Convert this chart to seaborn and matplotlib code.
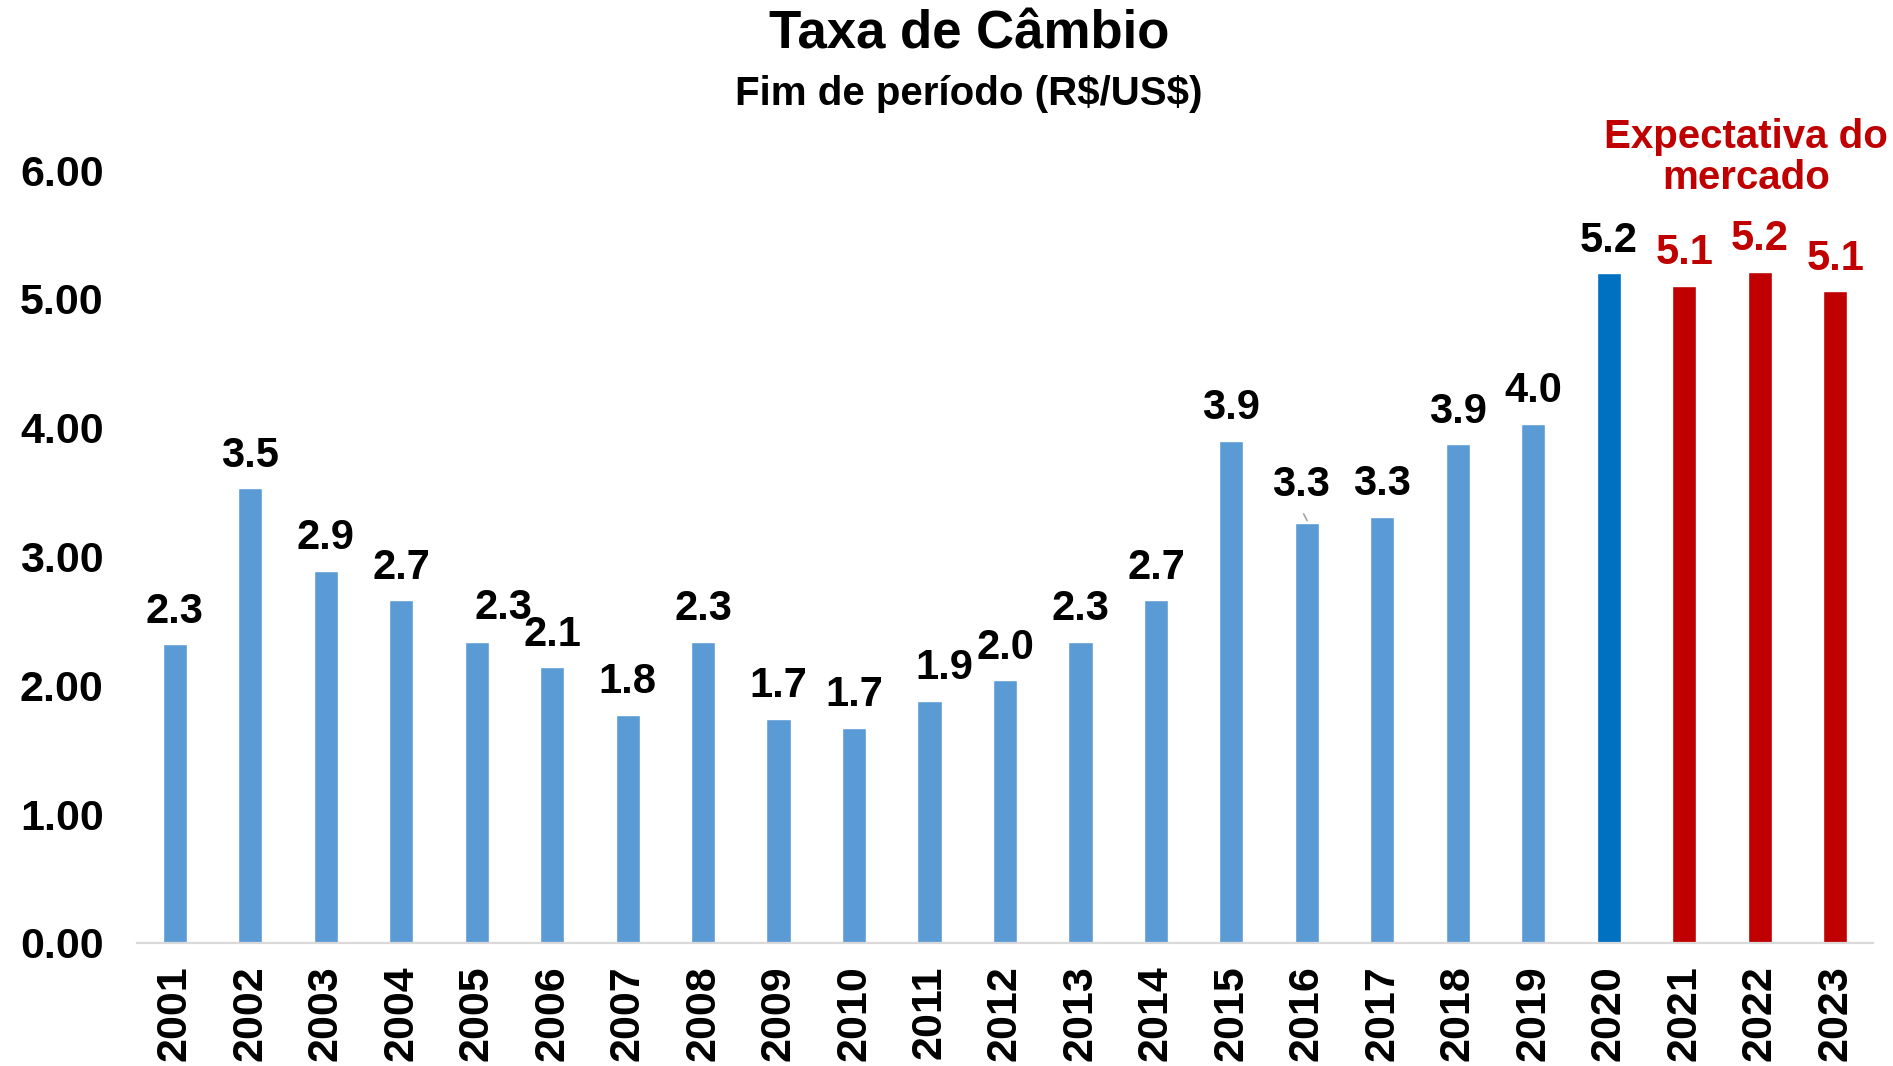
import matplotlib
matplotlib.use("Agg")
import matplotlib.pyplot as plt
import seaborn as sns
import pandas as pd

# dados
anos = [str(a) for a in range(2001, 2024)]
taxa = [2.32, 3.53, 2.89, 2.66, 2.34, 2.14, 1.77, 2.34, 1.74, 1.67, 1.88, 2.04,
        2.34, 2.66, 3.90, 3.26, 3.31, 3.87, 4.03, 5.20, 5.10, 5.21, 5.06]
tipo = ['hist'] * 19 + ['atual'] + ['proj'] * 3

cores = {'hist': '#5B9BD5', 'atual': '#0070C0', 'proj': '#C00000'}
cor_rotulo = {'hist': 'black', 'atual': 'black', 'proj': '#C00000'}

# deslocamento manual de alguns rotulos (pontos), como no original
ajuste = {'2005': (19, 1), '2011': (11, 0), '2016': (-4, 4)}

df = pd.DataFrame({'Ano': anos, 'Taxa': taxa, 'Tipo': tipo})

sns.set_style('white')
plt.rcParams['font.family'] = ['Liberation Sans', 'DejaVu Sans']
plt.rcParams['font.weight'] = 'bold'
plt.rcParams['text.color'] = 'black'
plt.rcParams['xtick.color'] = 'black'
plt.rcParams['ytick.color'] = 'black'

fig = plt.figure(figsize=(18.93, 10.66), dpi=100)
ax = fig.add_axes([0.0724, 0.1154, 0.917, 0.7251])

sns.barplot(data=df, x='Ano', y='Taxa', hue='Ano',
            palette={a: cores[t] for a, t in zip(anos, tipo)},
            legend=False, width=0.32, saturation=1, ax=ax)

ax.set_xlim(-0.5, len(anos) - 0.5)
ax.set_ylim(0, 6)
ax.set_yticks([0, 1, 2, 3, 4, 5, 6])
ax.set_yticklabels([f'{v:.2f}' for v in [0, 1, 2, 3, 4, 5, 6]])
ax.set_xlabel('')
ax.set_ylabel('')

for s in ['top', 'right', 'left']:
    ax.spines[s].set_visible(False)
ax.spines['bottom'].set_color('#D9D9D9')
ax.spines['bottom'].set_linewidth(1.6)

ax.tick_params(axis='y', length=0, pad=24, labelsize=31)
ax.tick_params(axis='x', length=0, pad=16, labelsize=31, rotation=90)
for lab in ax.get_xticklabels() + ax.get_yticklabels():
    lab.set_fontweight('bold')

for i, (a, v, t) in enumerate(zip(anos, taxa, tipo)):
    dx, dy = ajuste.get(a, (0, 0))
    ax.annotate(f'{v:.1f}', xy=(i, v), xytext=(dx, 9 + dy),
                textcoords='offset points', ha='center', va='bottom',
                fontsize=30, fontweight='bold', color=cor_rotulo[t],
                annotation_clip=False)

# linha guia do rotulo de 2016
i16 = anos.index('2016')
ax.annotate('', xy=(i16 + 0.02, taxa[i16]), xytext=(i16 - 0.06, taxa[i16] + 0.09),
            arrowprops=dict(arrowstyle='-', color='#A6A6A6', lw=1.2))

fig.text(0.512, 0.968, 'Taxa de Câmbio', ha='center', va='center',
         fontsize=38, fontweight='bold')
fig.text(0.512, 0.912, r'Fim de período (R\$/US\$)', ha='center', va='center',
         fontsize=29, fontweight='bold')
fig.text(0.9224, 0.852, 'Expectativa do\nmercado', ha='center', va='center',
         fontsize=29, fontweight='bold', color='#C00000', linespacing=1.1)

fig.savefig('out.png', dpi=100)
